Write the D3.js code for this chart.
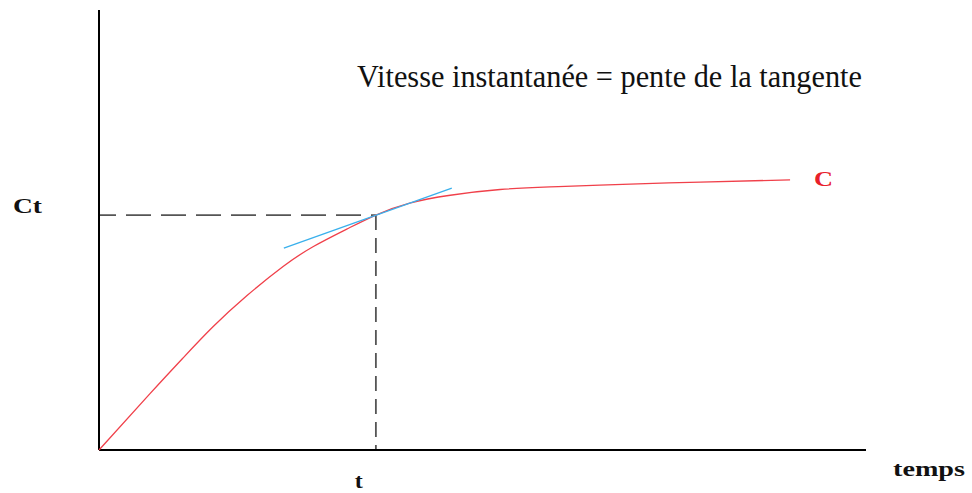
<!DOCTYPE html>
<html>
<head>
<meta charset="utf-8">
<script src="https://cdn.jsdelivr.net/npm/d3@7"></script>
<style>
  body { margin: 0; background: #fff; }
</style>
</head>
<body>
<div id="graph"></div>
<script>
// concentration curve C(t) (arbitrary units 0..100)
var curveT = [0, 6.65, 10.95, 14.86, 19.3, 24.0, 27.9, 32.3, 36.1, 40.5, 45.8, 52.3, 58.8, 65.3, 78.4, 90.1]
var curveC = [0, 12.8, 20.9, 28.0, 35.1, 41.7, 46.2, 50.2, 53.4, 56.1, 57.9, 59.2, 59.8, 60.2, 60.9, 61.4]

// tangent segment at the point t
var tangentT = [24.1, 46.0]
var tangentC = [45.9, 59.5]

var tPoint = 36.1
var ctPoint = 53.4

var title = 'Vitesse instantanée = pente de la tangente'

var width = 972, height = 493
var serif = '"Liberation Serif", "Times New Roman", serif'

var svg = d3.select('#graph').append('svg')
  .attr('width', width)
  .attr('height', height)

var x = d3.scaleLinear().domain([0, 100]).range([99, 866])
var y = d3.scaleLinear().domain([0, 100]).range([450, 10])

// dashed guides to Ct and t
svg.append('path')
  .attr('d', 'M' + [x(0), y(ctPoint)] + 'L' + [x(tPoint), y(ctPoint)])
  .attr('stroke', '#555').attr('stroke-width', 1.8)
  .attr('stroke-dasharray', '25,10').attr('stroke-dashoffset', 8)
  .attr('fill', 'none')
svg.append('path')
  .attr('d', 'M' + [x(tPoint), y(ctPoint)] + 'L' + [x(tPoint), y(0)])
  .attr('stroke', '#555').attr('stroke-width', 1.8)
  .attr('stroke-dasharray', '15,8').attr('fill', 'none')

// axes (plain lines, no ticks)
svg.append('line')
  .attr('x1', x(0)).attr('x2', x(0))
  .attr('y1', y(0)).attr('y2', y(100))
  .attr('stroke', '#000').attr('stroke-width', 2)
svg.append('line')
  .attr('x1', x(0)).attr('x2', x(100))
  .attr('y1', y(0)).attr('y2', y(0))
  .attr('stroke', '#000').attr('stroke-width', 2)

var pts = curveT.map((d, i) => [d, curveC[i]])
var line = d3.line().x(d => x(d[0])).y(d => y(d[1])).curve(d3.curveNatural)

svg.append('path')
  .attr('d', line(pts))
  .attr('fill', 'none').attr('stroke', '#f0404a').attr('stroke-width', 1.3)

svg.append('path')
  .attr('d', d3.line().x(d => x(d[0])).y(d => y(d[1]))(tangentT.map((d, i) => [d, tangentC[i]])))
  .attr('fill', 'none').attr('stroke', '#3ab0ec').attr('stroke-width', 1.3)

// labels (the picture is a bit stretched sideways, so widths are pinned)
function label(tx, ty, size, txt, color, bold, len){
  var t = svg.append('text').attr('x', tx).attr('y', ty)
    .style('font-family', serif)
    .attr('font-size', size)
    .attr('font-weight', bold ? 'bold' : 'normal')
    .attr('fill', color)
    .text(txt)
  if (len) t.attr('textLength', len).attr('lengthAdjust', 'spacingAndGlyphs')
  return t
}

label(357, 87, 31, title, '#111', false, 505)
label(13, 213, 21, 'Ct', '#111', true, 29)
label(814, 186, 21, 'C', '#e8202a', true, 19)
label(x(tPoint) - 21, 488, 21, 't', '#111', true, 8)
label(893, 476, 22, 'temps', '#111', true, 72)
</script>
</body>
</html>
